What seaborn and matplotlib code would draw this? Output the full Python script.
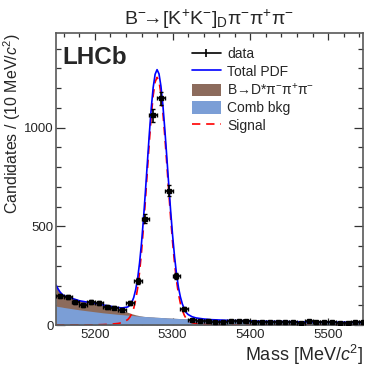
import numpy as np
import pandas as pd
import matplotlib
matplotlib.use('Agg')
import matplotlib.pyplot as plt
import seaborn as sns
from matplotlib.patches import Patch
from matplotlib.lines import Line2D
from matplotlib.ticker import MultipleLocator

# ---------------- data ----------------
bin_centres = [5155, 5165, 5175, 5185, 5195, 5205, 5215, 5225, 5235, 5245,
               5255, 5265, 5275, 5285, 5295, 5305, 5315, 5325, 5335, 5345,
               5355, 5365, 5375, 5385, 5395, 5405, 5415, 5425, 5435, 5445,
               5455, 5465, 5475, 5485, 5495, 5505, 5515, 5525, 5535, 5545]
counts = [147, 142, 117, 102, 117, 112, 91, 88, 78, 112,
          222, 538, 1062, 1148, 681, 249, 81, 25, 20, 18,
          17, 15, 22, 20, 18, 17, 14, 15, 15, 13,
          17, 12, 20, 16, 15, 16, 12, 10, 13, 14]

curve_mass = [5150, 5152.5, 5155, 5157.5, 5160, 5165, 5170, 5180, 5190, 5200,
              5210, 5220, 5230, 5235, 5240, 5242.5, 5245, 5247.5, 5250, 5252.5,
              5255, 5257.5, 5260, 5262.5, 5265, 5267.5, 5270, 5272.5, 5275, 5277.5,
              5280, 5282.5, 5285, 5287.5, 5290, 5292.5, 5295, 5297.5, 5300, 5302.5,
              5305, 5307.5, 5310, 5312.5, 5315, 5317.5, 5320, 5325, 5330, 5340,
              5350, 5375, 5400, 5425, 5450, 5475, 5500, 5525, 5550]
comb_bkg = [96, 94, 92.5, 91, 89, 86, 83, 77, 72, 67,
            62, 58, 54, 52.5, 50.5, 50, 49, 48, 47.5, 46.5,
            46, 45, 44.5, 43.5, 43, 42.5, 41.5, 41, 40.5, 39.5,
            39, 38.5, 38, 37.5, 37, 36, 35.5, 35, 34.5, 34,
            33.5, 33, 32.5, 32, 31.5, 31, 31, 30, 29, 27.5,
            26, 23, 20.5, 18.5, 17, 15.5, 14.5, 14, 13]
part_reco = [107, 90, 76, 66, 60, 56, 53, 46, 44, 42,
             38, 33, 26, 22, 17, 14, 12, 9, 7, 5,
             3.5, 2, 1, 0.5, 0, 0, 0, 0, 0, 0,
             0, 0, 0, 0, 0, 0, 0, 0, 0, 0,
             0, 0, 0, 0, 0, 0, 0, 0, 0, 0,
             0, 0, 0, 0, 0, 0, 0, 0, 0]
signal = [0, 0, 0, 0, 0, 0, 0, 0, 0, 1,
          2, 4, 8, 12, 22, 28, 40, 58, 85, 128,
          186, 268, 370, 493, 632, 779, 925, 1057, 1163, 1231,
          1255, 1234, 1172, 1076, 954, 817, 677, 542, 419, 313,
          226, 158, 110, 75, 50, 32, 22, 12, 7, 3,
          1, 0, 0, 0, 0, 0, 0, 0, 0]

# ---------------- style ----------------
sns.set_style('ticks')
plt.rcParams['font.family'] = ['Liberation Sans', 'DejaVu Sans']
plt.rcParams['mathtext.fontset'] = 'custom'
plt.rcParams['mathtext.rm'] = 'Liberation Sans'
plt.rcParams['mathtext.it'] = 'Liberation Sans:italic'
plt.rcParams['mathtext.bf'] = 'Liberation Sans:bold'

curves = pd.DataFrame({'mass': curve_mass, 'comb': comb_bkg,
                       'part': part_reco, 'signal': signal})
curves['bkg'] = curves['comb'] + curves['part']
curves['total'] = curves['bkg'] + curves['signal']

col_comb = '#7b9ed6'
col_part = '#8c6b5c'

fig = plt.figure(figsize=(3.66, 3.66), dpi=100)
ax = fig.add_axes([0.153, 0.112, 0.839, 0.798])

ax.fill_between(curves['mass'], 0, curves['bkg'], color=col_part, lw=0)
ax.fill_between(curves['mass'], 0, curves['comb'], color=col_comb, lw=0)
sns.lineplot(data=curves, x='mass', y='signal', ax=ax, color='red',
             lw=1.2, legend=False)
ax.lines[-1].set_dashes((5, 3.5))
sns.lineplot(data=curves, x='mass', y='total', ax=ax, color='blue',
             lw=1.2, legend=False)

ax.errorbar(bin_centres, counts, xerr=5, yerr=np.sqrt(counts), fmt='s',
            color='black', ms=3, elinewidth=1.2, capsize=1.3, capthick=1.0,
            zorder=5)

ax.set_xlim(5150, 5545)
ax.set_ylim(0, 1480)
ax.xaxis.set_major_locator(MultipleLocator(100))
ax.xaxis.set_minor_locator(MultipleLocator(20))
ax.yaxis.set_major_locator(MultipleLocator(500))
ax.yaxis.set_minor_locator(MultipleLocator(100))
ax.tick_params(which='both', direction='in', top=True, right=True,
               labelsize=9.5, width=0.9, color='0.2')
ax.tick_params(axis='y', which='major', length=6.5, pad=1.5)
ax.tick_params(axis='y', which='minor', length=3.5)
ax.tick_params(axis='x', which='major', length=5, pad=3)
ax.tick_params(axis='x', which='minor', length=2.8)
for s in ax.spines.values():
    s.set_linewidth(1.2)
    s.set_color('0.35')

ax.set_xlabel('Mass [MeV/$c^{2}$]', fontsize=13, loc='right', labelpad=1)
ax.set_ylabel('Candidates / (10 MeV/$c^{2}$)', fontsize=11.5, loc='top', labelpad=0)
ax.yaxis.set_label_coords(-0.107, 1.0)
ax.set_title(r'B$^{-}\!$→[K$^{+}$K$^{-}$]$_{\mathrm{D}}$π$^{-}$π$^{+}$π$^{-}$',
             fontsize=14, pad=6)

ax.text(0.022, 0.955, 'LHCb', transform=ax.transAxes, fontsize=17.5,
        fontweight='bold', va='top', ha='left')

handles = [
    Line2D([0], [0], color='black', lw=1.2, marker='|', ms=6, mew=1.2),
    Line2D([0], [0], color='blue', lw=1.2),
    Patch(facecolor=col_part, edgecolor='none'),
    Patch(facecolor=col_comb, edgecolor='none'),
    Line2D([0], [0], color='red', lw=1.2, dashes=(5, 3.5)),
]
labels = ['data', 'Total PDF', 'B→D*π$^{-}$π$^{+}$π$^{-}$', 'Comb bkg', 'Signal']
ax.legend(handles, labels, loc='upper left', bbox_to_anchor=(0.41, 0.985),
          frameon=False, fontsize=10, handlelength=2.1, handleheight=1.0,
          labelspacing=0.25, handletextpad=0.45, borderpad=0.2)

fig.savefig('out.png', dpi=100)
